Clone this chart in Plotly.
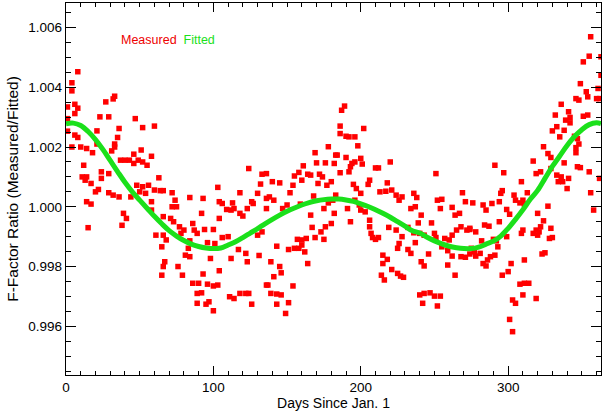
import plotly.graph_objects as go

# Measured F-factor ratio (day since Jan. 1, ratio)
measured_days = [
    8, 4, 4, 1, 6, 8, 1, 6, 1, 27, 32, 33, 23, 29, 21, 36, 6, 8, 4, 10, 14, 18, 21, 33, 33, 35, 31, 37, 40, 43,
    12, 11, 14, 13, 24, 29, 24, 17, 20, 22, 29, 32, 36, 44, 14, 17, 39, 41, 38, 15,
    47, 52, 60, 51, 58, 46, 49, 52, 55, 46, 63, 48, 52, 50, 56, 60, 64, 66, 54, 58, 72, 84, 74, 72, 75,
    58, 66, 71, 73, 77, 80, 86, 87, 89, 61, 65, 66, 68, 78, 84, 83, 81, 84, 76, 79, 67, 66, 65, 86, 90, 89, 89,
    124, 133, 132, 103, 118, 93, 104, 106, 113, 130, 126, 109, 112, 114, 118, 120, 123, 127, 136, 92, 104,
    94, 100, 106, 110, 96, 101, 130, 133, 98, 117, 122, 123, 131, 112, 104, 93, 92, 96, 100, 103, 111, 114,
    118, 122, 124, 97, 95, 100, 126, 136,
    178, 169, 183, 170, 176, 161, 158, 164, 166, 172, 174, 160, 171, 177, 180, 140, 145, 136, 155, 154, 152,
    138, 141, 150, 147, 136, 159, 168, 175, 178, 181, 166, 167, 173, 176, 169, 175, 180, 157, 160, 163, 151,
    155, 158, 160, 162, 164, 143, 139, 145, 146, 141, 154, 137, 139, 143, 146, 151, 143, 149,
    189, 187, 186, 186, 190, 192, 196, 202, 198, 184, 190, 196, 200, 201, 193, 194, 210, 212, 220, 182, 186,
    192, 206, 205, 195, 218, 197, 200, 213, 217, 221, 224, 226, 183, 182, 196, 199, 200, 193, 191, 203, 206,
    206, 207, 208, 210, 212, 219, 224, 226, 225, 215, 218, 215, 214, 216, 221, 225, 227,
    251, 269, 271, 236, 238, 252, 255, 228, 234, 237, 241, 254, 262, 264, 267, 248, 239, 232, 228, 236, 237,
    240, 243, 250, 251, 265, 268, 272, 274, 257, 260, 262, 232, 234, 241, 243, 246, 259, 262, 255, 268, 271,
    274, 229, 259, 264, 240, 243, 247, 250, 254, 242, 252,
    291, 317, 297, 319, 309, 296, 295, 304, 305, 313, 310, 311, 276, 283, 285, 289, 294, 299, 301, 308, 294,
    274, 278, 284, 287, 282, 290, 292, 293, 299, 309, 310, 317, 319, 320, 275, 277, 278, 281, 286, 288, 291,
    311, 283, 285, 302, 296, 300, 308, 311, 314, 310, 303, 305, 319, 301, 303,
    356, 355, 351, 363, 363, 349, 361, 360, 362, 353, 354, 346, 348, 336, 341, 332, 351, 354, 342, 339, 342,
    333, 330, 335, 338, 345, 347, 348, 324, 346, 346, 327, 329, 338, 347, 349, 355, 322, 333, 336, 334, 329,
    341, 362, 337, 340, 356, 358, 327, 320, 324, 322, 321, 329, 330, 328, 323, 325,
]
measured_ratio = [
    1.00452, 1.00415, 1.00388, 1.00334, 1.00343, 1.00330, 1.00295, 1.00312, 1.00253, 1.00351, 1.00361, 1.00370,
    1.00301, 1.00301, 1.00254, 1.00262, 1.00240, 1.00232, 1.00200, 1.00200, 1.00195, 1.00181, 1.00210, 1.00210,
    1.00200, 1.00232, 1.00187, 1.00156, 1.00156, 1.00156,
    1.00139, 1.00100, 1.00100, 1.00089, 1.00117, 1.00111, 1.00095, 1.00078, 1.00050, 1.00058, 1.00047, 1.00039,
    1.00033, 1.00033, 1.00017, 1.00009, 0.99978, 0.99961, 0.99938, 0.99930,
    1.00295, 1.00265, 1.00270, 1.00190, 1.00169, 1.00176, 1.00156, 1.00150, 1.00139, 1.00145, 1.00097, 1.00072,
    1.00067, 1.00050, 1.00072, 1.00056, 1.00054, 1.00054, 1.00045, 1.00017, 1.00047, 1.00031, 1.00022, 1.00000,
    1.00000,
    0.99989, 0.99967, 0.99961, 0.99950, 0.99933, 0.99922, 0.99944, 0.99922, 0.99911, 0.99905, 0.99866, 0.99905,
    0.99889, 0.99911, 0.99886, 0.99861, 0.99838, 0.99833, 0.99800, 0.99771, 0.99816, 0.99800, 0.99771, 0.99744,
    0.99744, 0.99710, 0.99677,
    1.00128, 1.00109, 1.00076, 1.00065, 1.00047, 1.00028, 1.00017, 1.00011, 1.00013, 1.00045, 1.00017, 0.99991,
    0.99989, 0.99994, 0.99978, 0.99969, 0.99994, 1.00011, 1.00028, 0.99978, 0.99961,
    0.99924, 0.99924, 0.99897, 0.99900, 0.99880, 0.99877, 0.99905, 0.99916, 0.99827, 0.99857, 0.99844, 0.99816,
    0.99837, 0.99827, 0.99786, 0.99775, 0.99712, 0.99741, 0.99735, 0.99738, 0.99699, 0.99693,
    0.99710, 0.99710, 0.99710, 0.99682, 0.99674, 0.99652, 0.99674, 0.99738,
    1.00201, 1.00181, 1.00173, 1.00147, 1.00147, 1.00137, 1.00115, 1.00109, 1.00106, 1.00109, 1.00100, 1.00089,
    1.00078, 1.00072, 1.00084, 1.00084, 1.00080, 1.00111, 1.00103, 1.00072, 1.00047,
    1.00033, 1.00022, 1.00006, 0.99994, 0.99994, 1.00009, 1.00036, 0.99994, 1.00013, 1.00022, 0.99972, 0.99931,
    0.99916, 0.99933, 0.99897, 0.99891, 0.99944, 0.99891, 0.99889, 0.99894, 0.99857,
    0.99861, 0.99861, 0.99872, 0.99849, 0.99810, 0.99868, 0.99816, 0.99800, 0.99779, 0.99766, 0.99735, 0.99738,
    0.99710, 0.99708, 0.99705, 0.99679, 0.99674, 0.99643,
    1.00337, 1.00323, 1.00270, 1.00245, 1.00236, 1.00234, 1.00234, 1.00262, 1.00204, 1.00173, 1.00165, 1.00150,
    1.00162, 1.00143, 1.00134, 1.00145, 1.00130, 1.00130, 1.00150, 1.00145, 1.00114,
    1.00117, 1.00089, 1.00075, 1.00075, 1.00080, 1.00061, 1.00045, 1.00050, 1.00052, 1.00056, 1.00039, 1.00022,
    1.00039, 0.99978, 1.00022, 1.00006, 0.99989, 0.99950, 0.99994, 0.99983, 0.99955,
    0.99933, 0.99911, 0.99897, 0.99891, 0.99897, 0.99931, 0.99922, 0.99877, 0.99861, 0.99838, 0.99824, 0.99810,
    0.99771, 0.99755, 0.99790, 0.99777, 0.99768,
    1.00111, 1.00047, 1.00017, 1.00045, 1.00031, 1.00022, 1.00025, 1.00033, 0.99994, 1.00000, 0.99972, 0.99994,
    0.99998, 0.99972, 0.99978, 0.99946, 0.99946, 0.99931, 0.99900, 0.99913, 0.99880,
    0.99911, 0.99905, 0.99911, 0.99897, 0.99922, 0.99933, 0.99922, 0.99928, 0.99894, 0.99889, 0.99905, 0.99857,
    0.99844, 0.99816, 0.99802, 0.99842, 0.99853, 0.99835, 0.99866, 0.99833, 0.99831,
    0.99842, 0.99764, 0.99805, 0.99771, 0.99705, 0.99710, 0.99712, 0.99701, 0.99701, 0.99677, 0.99668,
    1.00139, 1.00153, 1.00114, 1.00111, 1.00084, 1.00054, 1.00045, 1.00039, 1.00022, 1.00047, 1.00022, 1.00009,
    1.00013, 1.00006, 0.99989, 1.00011, 1.00017, 0.99991, 0.99975, 1.00013, 0.99950,
    0.99924, 0.99916, 0.99939, 0.99935, 0.99886, 0.99891, 0.99886, 0.99866, 0.99900, 0.99911, 0.99922, 0.99911,
    0.99922, 0.99905, 0.99861, 0.99849, 0.99835, 0.99844, 0.99822, 0.99833, 0.99838,
    0.99822, 0.99810, 0.99802, 0.99810, 0.99771, 0.99783, 0.99741, 0.99744, 0.99744, 0.99705, 0.99688, 0.99677,
    0.99693, 0.99623, 0.99582,
    1.00569, 1.00504, 1.00485, 1.00502, 1.00440, 1.00412, 1.00396, 1.00362, 1.00362, 1.00385, 1.00368, 1.00362,
    1.00357, 1.00343, 1.00318, 1.00307, 1.00303, 1.00307, 1.00299, 1.00290, 1.00281,
    1.00268, 1.00254, 1.00234, 1.00256, 1.00236, 1.00228, 1.00210, 1.00201, 1.00198, 1.00181, 1.00178, 1.00165,
    1.00147, 1.00134, 1.00131, 1.00117, 1.00117, 1.00106, 1.00100, 1.00084, 1.00128,
    1.00095, 1.00095, 1.00084, 1.00061, 1.00047, 0.99989, 1.00002, 0.99978, 0.99953, 0.99933, 0.99916, 0.99928,
    0.99897, 0.99894, 0.99842, 0.99846,
]

# Fitted curve, every 5 days
fit_days = [0, 5, 10, 15, 20, 25, 30, 35, 40, 45, 50, 55, 60, 65, 70, 75, 80, 85, 90, 95, 100, 105, 110,
            115, 120, 125, 130, 135, 140, 145, 150, 155, 160, 165, 170, 175, 180, 185, 190, 195, 200,
            205, 210, 215, 220, 225, 230, 235, 240, 245, 250, 255, 260, 265, 270, 275, 280, 285, 290,
            295, 300, 305, 310, 315, 320, 325, 330, 335, 340, 345, 350, 355, 360, 363]
fit_ratio = [1.00278, 1.00280, 1.00272, 1.00252, 1.00225, 1.00192, 1.00155, 1.00118, 1.00082, 1.00050,
             1.00022, 0.99995, 0.99968, 0.99943, 0.99920, 0.99902, 0.99887, 0.99875, 0.99867, 0.99862,
             0.99860, 0.99862, 0.99872, 0.99883, 0.99897, 0.99912, 0.99927, 0.99943, 0.99958, 0.99972,
             0.99985, 0.99996, 1.00006, 1.00014, 1.00020, 1.00024, 1.00026, 1.00026, 1.00023, 1.00018,
             1.00010, 1.00001, 0.99990, 0.99978, 0.99965, 0.99950, 0.99935, 0.99920, 0.99912, 0.99898,
             0.99886, 0.99876, 0.99868, 0.99863, 0.99860, 0.99860, 0.99865, 0.99875, 0.99885, 0.99902,
             0.99928, 0.99958, 0.99990, 1.00025, 1.00055, 1.00095, 1.00135, 1.00170, 1.00205, 1.00235,
             1.00258, 1.00275, 1.00281, 1.00278]

x_ticks = [0, 100, 200, 300]
y_ticks = [0.996, 0.998, 1.000, 1.002, 1.004, 1.006]

FONT = "Liberation Sans"

fig = go.Figure()
fig.add_trace(go.Scatter(
    x=measured_days, y=measured_ratio, mode="markers",
    marker=dict(symbol="square", size=5.5, color="#ff0000", line=dict(width=0)),
    name="Measured", showlegend=False,
))
fig.add_trace(go.Scatter(
    x=fit_days, y=fit_ratio, mode="lines",
    line=dict(color="#1be01b", width=5, shape="spline"),
    name="Fitted", showlegend=False,
))

fig.add_annotation(
    x=36, y=1.00558, xref="x", yref="y", xanchor="left", yanchor="middle", showarrow=False,
    text="<span style='color:#ee0000'>Measured</span>  <span style='color:#1be01b'>Fitted</span>",
    font=dict(family=FONT, size=12.5),
)

axis_common = dict(
    showline=True, linecolor="black", linewidth=1.3, mirror="ticks",
    ticks="inside", tickcolor="black", tickwidth=1.3,
    showgrid=False, zeroline=False,
    tickfont=dict(family=FONT, size=13.5, color="black"),
)

fig.update_xaxes(
    range=[0, 363], tickvals=x_ticks, ticklen=9,
    minor=dict(dtick=10, tick0=0, ticks="inside", ticklen=4, tickcolor="black", tickwidth=1.3, showgrid=False),
    title=dict(text="Days Since Jan. 1", font=dict(family=FONT, size=14, color="black"), standoff=3),
    **axis_common,
)
fig.update_yaxes(
    range=[0.99437, 1.00682], tickvals=y_ticks, tickformat=".3f", ticklen=10,
    minor=dict(dtick=0.0005, tick0=0.996, ticks="inside", ticklen=5, tickcolor="black", tickwidth=1.3, showgrid=False),
    title=dict(text="F-Factor Ratio (Measured/Fitted)", font=dict(family=FONT, size=15.5, color="black"), standoff=5),
    **axis_common,
)

fig.update_layout(
    width=603, height=417,
    margin=dict(l=66, r=2, t=3, b=42),
    plot_bgcolor="white", paper_bgcolor="white",
)

fig.write_html("out.html")
